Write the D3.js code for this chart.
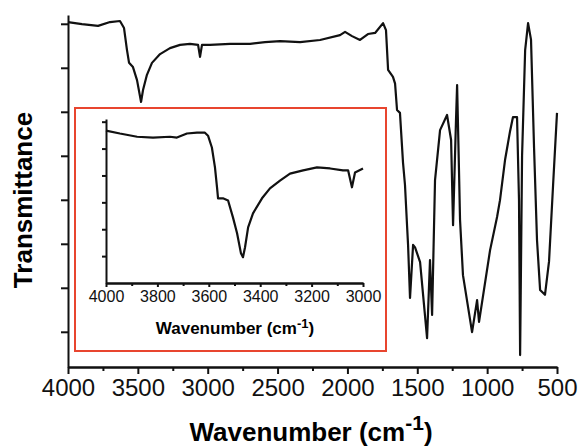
<!DOCTYPE html>
<meta charset="utf-8">
<style>
body { margin: 0; background: #fff; }
svg { font-family: Arial, "Liberation Sans", sans-serif; }
.curve { fill: none; stroke: #111; stroke-width: 2.2px; stroke-linejoin: round; }
.axis path, .axis line { stroke: #111; stroke-width: 2px; }
.axis text { fill: #111; }
</style>
<svg width="581" height="446"></svg>
<script src="https://cdn.jsdelivr.net/npm/d3@7/dist/d3.min.js"></script>
<script>

// main spectrum (wavenumber cm-1, transmittance a.u.)
var wavenumber = [4000, 3900, 3785, 3699, 3628, 3599, 3578, 3563, 3535, 3506, 3477, 3463, 3435, 3399,
  3341, 3270, 3198, 3127, 3069, 3055, 3041, 2984, 2840, 2697, 2590, 2482, 2339, 2196, 2053, 2017,
  1967, 1910, 1853, 1802, 1745, 1724, 1709, 1674, 1659, 1645, 1624, 1602, 1588, 1573, 1566, 1552,
  1530, 1516, 1480, 1430, 1409, 1394, 1373, 1337, 1287, 1258, 1244, 1223, 1215, 1201, 1194, 1173,
  1108, 1072, 1058, 979, 929, 908, 872, 836, 815, 786, 772, 764, 750, 728, 707, 686, 664, 643, 621,
  586, 557, 528, 500]
var transmittance = [98.0, 97.4, 96.9, 98.0, 98.3, 96.3, 90.1, 86.4, 85.2, 81.5, 75.3, 78.7, 83.0, 86.4,
  88.9, 90.6, 91.5, 91.8, 91.5, 88.1, 91.5, 91.5, 91.8, 91.8, 92.3, 92.6, 92.3, 92.9, 94.3, 95.2,
  94.0, 92.9, 94.6, 94.9, 97.7, 95.7, 84.4, 82.4, 80.5, 73.0, 72.2, 58.0, 51.7, 40.0, 34.7, 19.6,
  34.7, 34.0, 29.8, 8.2, 30.4, 14.8, 53.1, 67.3, 71.6, 64.5, 40.3, 70.0, 80.1, 55.0, 41.8, 26.1,
  9.9, 19.0, 12.8, 33.2, 42.6, 47.4, 58.8, 67.0, 71.0, 71.0, 47.4, 3.4, 60.0, 90.0, 97.7, 93.0,
  62.0, 36.0, 21.9, 20.5, 30.0, 51.7, 72.2]

// inset: 4000-3000 cm-1 region
var insetWn = [4000, 3946, 3879, 3817, 3751, 3724, 3685, 3646, 3615, 3603, 3588, 3576, 3568, 3564,
  3545, 3525, 3506, 3490, 3475, 3467, 3459, 3447, 3428, 3393, 3362, 3323, 3284, 3233, 3179, 3128,
  3078, 3058, 3043, 3031, 3000]
var insetT = [5.67, 5.56, 5.44, 5.41, 5.44, 5.41, 5.56, 5.59, 5.59, 5.48, 5.04, 4.30, 3.56, 3.15,
  3.15, 3.07, 2.44, 1.85, 1.11, 0.96, 1.33, 2.07, 2.59, 3.15, 3.52, 3.81, 4.07, 4.19, 4.30, 4.26,
  4.19, 4.19, 3.56, 4.11, 4.26]

var mainXTicks = [4000, 3500, 3000, 2500, 2000, 1500, 1000, 500]
var mainYTicks = [10, 22.5, 35, 47.5, 60, 72.5, 85, 97.5]
var insetXTicks = [4000, 3800, 3600, 3400, 3200, 3000]
var insetYTicks = [1, 2, 3, 4, 5, 6]

var svg = d3.select("svg")

var x = d3.scaleLinear().domain([4000, 500]).range([68, 557])
var y = d3.scaleLinear().domain([0, 100]).range([367, 15])

var mainData = wavenumber.map(function(d, i) { return [d, transmittance[i]] })

// minor x ticks
svg.append("g")
    .attr("class", "axis")
    .attr("transform", "translate(0,367)")
    .call(d3.axisBottom(x).tickValues(d3.range(750, 4000, 500)).tickSize(4).tickFormat("").tickSizeOuter(0))

svg.append("g")
    .attr("class", "axis")
    .attr("transform", "translate(0,367)")
    .call(d3.axisBottom(x).tickValues(mainXTicks).tickSize(7).tickPadding(5).tickSizeOuter(0).tickFormat(d3.format("d")))
    .selectAll("text").style("font-size", "24px")

svg.append("g")
    .attr("class", "axis")
    .attr("transform", "translate(68,0)")
    .call(d3.axisLeft(y).tickValues(mainYTicks).tickSize(7).tickFormat("").tickSizeOuter(0))

svg.append("path")
    .datum(mainData)
    .attr("class", "curve")
    .attr("d", d3.line().x(function(d) { return x(d[0]) }).y(function(d) { return y(d[1]) }))

// axis titles
var xt = svg.append("text")
    .attr("x", 311).attr("y", 441)
    .attr("text-anchor", "middle")
    .style("font-size", "26px").style("font-weight", "bold")
xt.append("tspan").text("Wavenumber (cm")
xt.append("tspan").text("-1").attr("dy", -11).style("font-size", "21px")
xt.append("tspan").text(")").attr("dy", 11)

svg.append("text")
    .attr("transform", "translate(32,200) rotate(-90)")
    .attr("text-anchor", "middle")
    .style("font-size", "26px").style("font-weight", "bold")
    .text("Transmittance")

// inset
svg.append("rect")
    .attr("x", 75).attr("y", 108).attr("width", 311).attr("height", 243)
    .attr("fill", "#fff").attr("stroke", "#e8452f").attr("stroke-width", 2)

var ix = d3.scaleLinear().domain([4000, 3000]).range([106, 363])
var iy = d3.scaleLinear().domain([0, 6.1]).range([283, 119])

svg.append("g")
    .attr("class", "axis")
    .attr("transform", "translate(0,283)")
    .call(d3.axisBottom(ix).tickValues(d3.range(3100, 4000, 200)).tickSize(3).tickFormat("").tickSizeOuter(0))

svg.append("g")
    .attr("class", "axis")
    .attr("transform", "translate(0,283)")
    .call(d3.axisBottom(ix).tickValues(insetXTicks).tickSize(4).tickPadding(4).tickSizeOuter(0).tickFormat(d3.format("d")))
    .selectAll("text").style("font-size", "16px")

svg.append("g")
    .attr("class", "axis")
    .attr("transform", "translate(106,0)")
    .call(d3.axisLeft(iy).tickValues(insetYTicks).tickSize(4).tickFormat("").tickSizeOuter(0))

svg.append("path")
    .datum(insetWn.map(function(d, i) { return [d, insetT[i]] }))
    .attr("class", "curve")
    .attr("d", d3.line().x(function(d) { return ix(d[0]) }).y(function(d) { return iy(d[1]) }))

var it = svg.append("text")
    .attr("x", 235).attr("y", 334)
    .attr("text-anchor", "middle")
    .style("font-size", "17px").style("font-weight", "bold")
it.append("tspan").text("Wavenumber (cm")
it.append("tspan").text("-1").attr("dy", -6).style("font-size", "13px")
it.append("tspan").text(")").attr("dy", 6)

</script>
